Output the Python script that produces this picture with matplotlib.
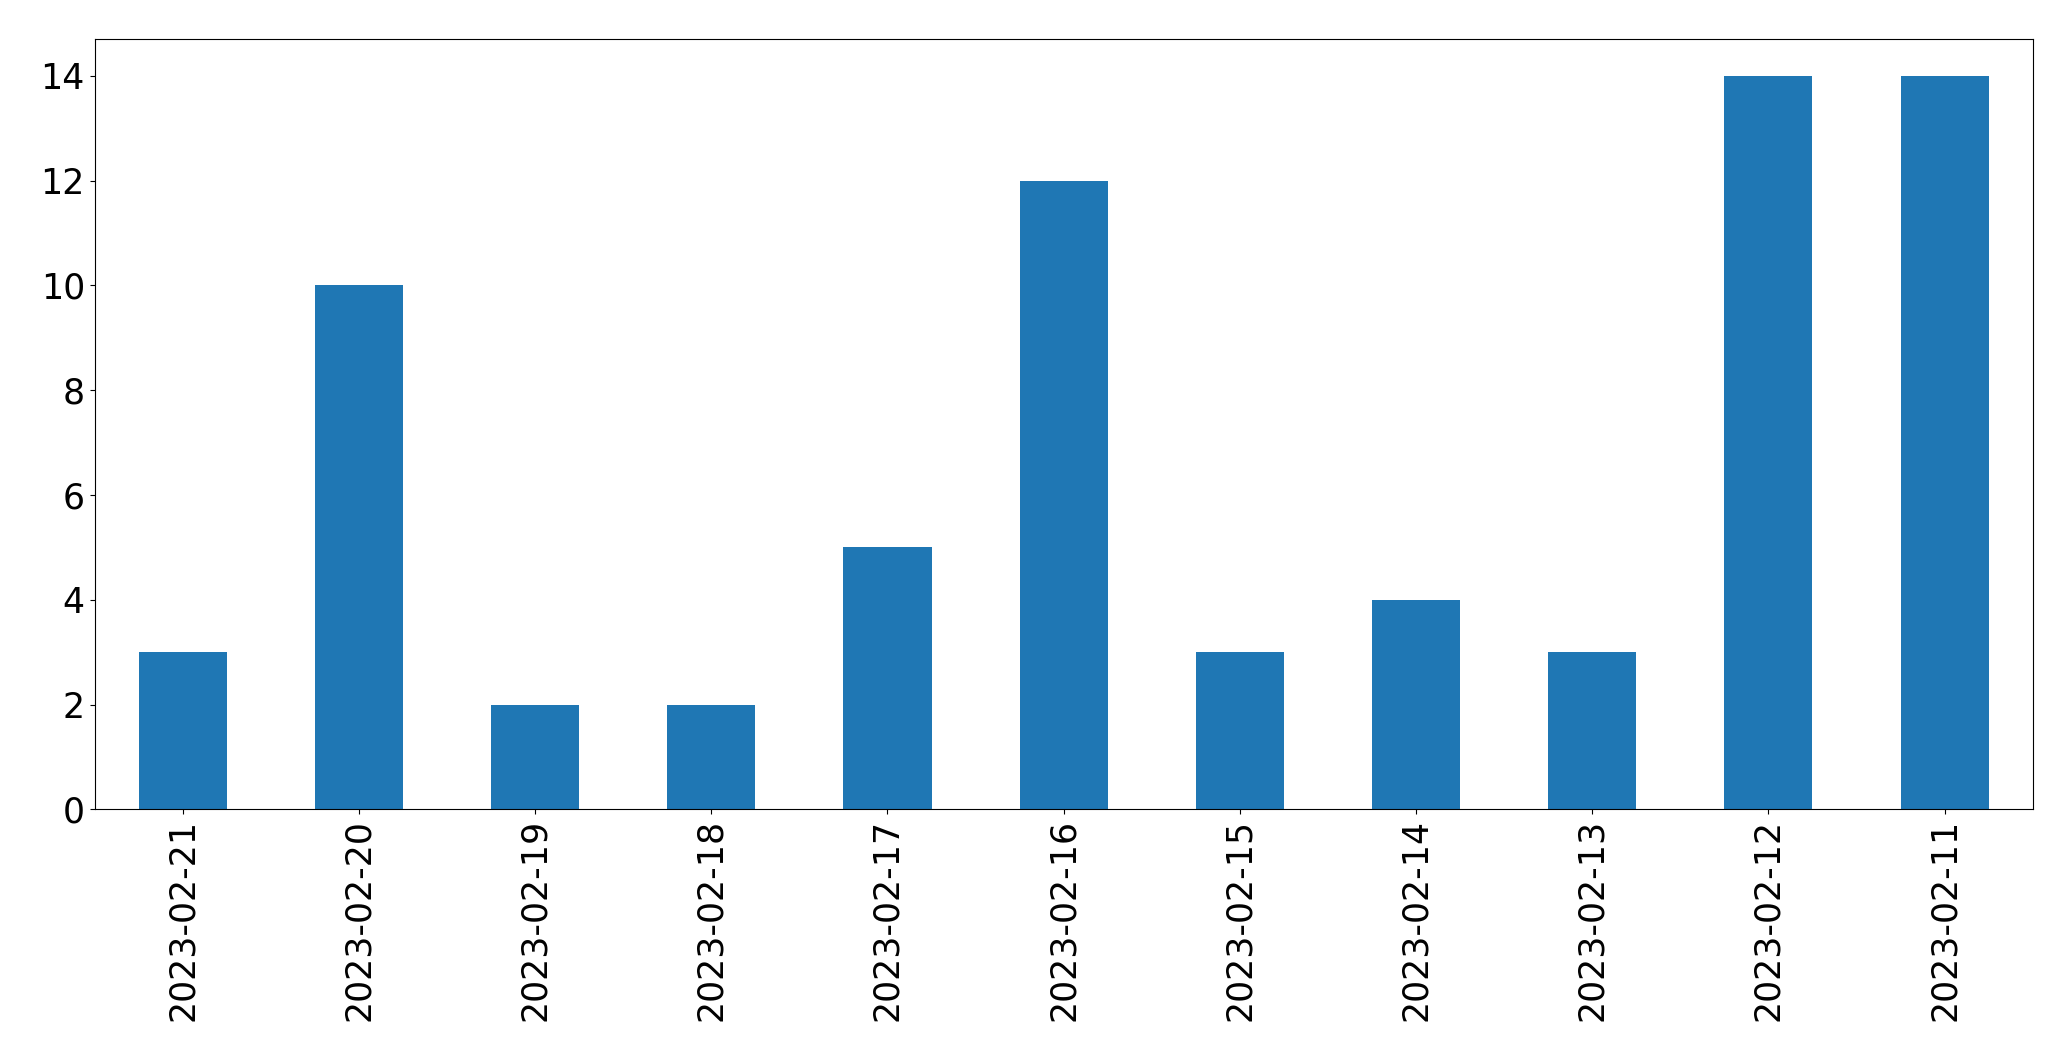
import matplotlib
matplotlib.use("Agg")
import matplotlib.pyplot as plt
import pandas as pd

dates = ["2023-02-21", "2023-02-20", "2023-02-19", "2023-02-18", "2023-02-17",
         "2023-02-16", "2023-02-15", "2023-02-14", "2023-02-13", "2023-02-12",
         "2023-02-11"]
counts = [3, 10, 2, 2, 5, 12, 3, 4, 3, 14, 14]

s = pd.Series(counts, index=dates)

fig = plt.figure(figsize=(20.71, 10.61), dpi=100)
ax = fig.add_axes([0.0457, 0.2372, 0.9358, 0.7258])
s.plot(kind="bar", ax=ax, color="#1f77b4")
ax.tick_params(axis="both", labelsize=25)
ax.set_xlabel("")

fig.savefig("out.png", dpi=100)
